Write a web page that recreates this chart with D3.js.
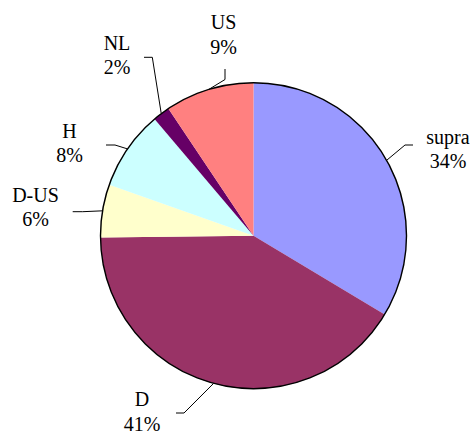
<!DOCTYPE html>
<html>
<head>
<meta charset="utf-8">
<script src="https://cdn.jsdelivr.net/npm/d3@7"></script>
<style>
html,body{margin:0;padding:0;background:#fff;}
svg{display:block;}
svg text{font-family:"Times New Roman", Times, "Liberation Serif", "DejaVu Serif", serif;}
</style>
</head>
<body>
<svg id="chart" width="472" height="434"></svg>
<script>
const categories = ["supra", "D", "D-US", "H", "NL", "US"];
const values = [33.6, 41.2, 5.6, 8.4, 1.8, 9.4];
const colors = ["#9999FF", "#993366", "#FFFFCC", "#CCFFFF", "#660066", "#FF8080"];

// layout of labels (positions only)
const labelLayout = [
  {cx: 448, y: 143.5, stub: [[413,145],[405,145]]},
  {cx: 142, y: 406,   stub: [[176,413],[184,413]]},
  {cx: 35.5, y: 201.7, stub: [[72.7,211.7],[82.7,211.7]]},
  {cx: 69.5, y: 137.5, stub: [[106,145],[115,145]]},
  {cx: 117, y: 49.5,  stub: [[144,57.3],[152.3,57.3]]},
  {cx: 223.5, y: 29,  stub: [[225,69],[225,79.5]]}
];

const cx = 253.5, cy = 235.7, r = 153;
const svg = d3.select("#chart");
const g = svg.append("g").attr("transform", `translate(${cx},${cy})`);

const pie = d3.pie().sort(null).value(d => d.v);
const data = categories.map((c, i) => ({c, v: values[i], i}));
const arcs = pie(data);
const total = d3.sum(values);
const arc = d3.arc().innerRadius(0).outerRadius(r);

g.selectAll("path.slice").data(arcs).join("path")
  .attr("class", "slice")
  .attr("d", arc)
  .attr("fill", d => colors[d.data.i]);

g.append("circle").attr("r", r).attr("fill", "none")
  .attr("stroke", "#000").attr("stroke-width", 1.4);

// leader lines and labels
arcs.forEach((a, i) => {
  const L = labelLayout[i];
  const mid = (a.startAngle + a.endAngle) / 2;
  const ex = cx + r * Math.sin(mid), ey = cy - r * Math.cos(mid);
  const pts = [L.stub[0], L.stub[1], [ex, ey]];
  svg.append("path")
    .attr("d", d3.line()(pts))
    .attr("fill", "none").attr("stroke", "#000").attr("stroke-width", 1);
  const t = svg.append("text")
    .attr("text-anchor", "middle")
    .attr("font-size", 20)
    .attr("fill", "#000");
  t.append("tspan").attr("x", L.cx).attr("y", L.y).text(a.data.c);
  t.append("tspan").attr("x", L.cx).attr("y", L.y + 24.5)
    .text(Math.round(a.data.v / total * 100) + "%");
});
</script>
</body>
</html>
